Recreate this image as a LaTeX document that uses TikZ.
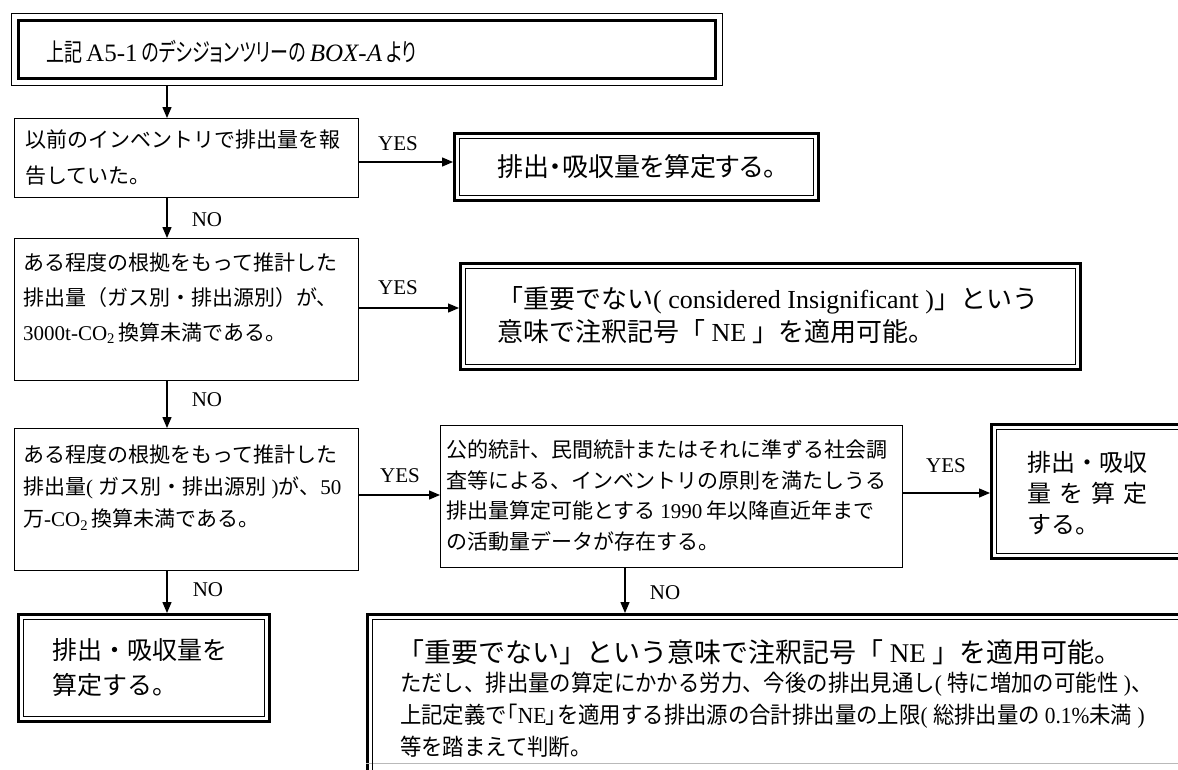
\documentclass[tikz,border=0pt]{standalone}
\usepackage{fontspec}
\setmainfont{Liberation Serif}
\newfontfamily\jp{Noto Sans CJK JP}
\newfontfamily\jpp{Noto Sans CJK JP}[RawFeature={+palt}]
\newfontfamily\jpt{Noto Sans CJK JP}[RawFeature={+palt},FakeStretch=0.72]
\newfontfamily\jpc{Noto Sans CJK JP}[FakeStretch=0.93]
\newfontfamily\jpcp{Noto Sans CJK JP}[RawFeature={+palt},FakeStretch=0.93]
\newfontfamily\rmc{Liberation Serif}[FakeStretch=0.93]
\newcommand\lat[1]{{\rmfamily #1}}
\newcommand\latc[1]{{\rmc #1}}
\usetikzlibrary{arrows.meta}
\begin{document}
\begin{tikzpicture}[x=1pt,y=-1pt,
  sbox/.style={draw, line width=1.2pt, inner sep=0pt, anchor=north west},
  dbox/.style={draw, line width=3pt, inner sep=0pt, anchor=north west},
  tbox/.style={draw, line width=1pt, inner sep=0pt, anchor=north west},
  txt/.style={inner sep=0pt, anchor=north west, align=left, font=\jp\fontsize{21}{35}\selectfont},
  bigtxt/.style={inner sep=0pt, anchor=north west, align=left, font=\jp\fontsize{26}{33}\selectfont},
  lab/.style={inner sep=0pt, font=\fontsize{21}{24}\selectfont},
  arr/.style={line width=1.3pt, -{Triangle[length=11pt,width=9pt]}},
  innerline/.style={line width=1.3pt}]
\useasboundingbox (0,0) rectangle (1178,769);
\fill[white] (0,0) rectangle (1178,769);

% helper coordinates
\coordinate (cx) at (167,0);
\coordinate (cx2) at (625,0);
\coordinate (r1) at (0,162);
\coordinate (r2) at (0,308);
\coordinate (r3) at (0,495);
\coordinate (r4) at (0,493);
\coordinate (gl) at (0,763);

% top box
\node[tbox, minimum width=711pt, minimum height=72pt] (top) at (11,13) {};
\draw[line width=3.5pt] ([shift={(7.5,7.5)}]top.north west) rectangle ([shift={(-7.5,-7.5)}]top.south east);
\node[inner sep=0pt, anchor=west, font=\jpt\fontsize{25}{28}\selectfont] (toptext) at ([shift={(35,39)}]top.north west)
  {上記 \lat{A5-1} のデシジョンツリーの \lat{\textit{BOX-A}} より};

% box 1
\node[sbox, minimum width=344pt, minimum height=79pt] (b1) at (14,118) {};
\node[txt, font=\jp\fontsize{21}{36}\selectfont] (b1t) at ([shift={(11,12)}]b1.north west) {以前のインベントリで排出量を報\\告していた。};

% box A
\node[dbox, minimum width=364pt, minimum height=67pt, font=\jpp\fontsize{26}{30}\selectfont] (boxA) at (453,132) {排出・吸収量を算定する。};

% box 2
\node[sbox, minimum width=344pt, minimum height=142pt] (b2) at (14,238) {};
\node[txt] (b2t) at ([shift={(9,15)}]b2.north west)
  {ある程度の根拠をもって推計した\\排出量（ガス別・排出源別）が、\\\lat{3000t-CO\textsubscript{2}}\,換算未満である。};

% NE box
\node[dbox, minimum width=620pt, minimum height=106pt] (ne) at (459,262) {};
\node[bigtxt] (net) at ([shift={(38,24)}]ne.north west)
  {「重要でない\lat{( considered Insignificant )}」という\\意味で注釈記号「\lat{ NE }」を適用可能。};

% box 3
\node[sbox, minimum width=344pt, minimum height=142pt] (b3) at (14,428) {};
\node[txt, font=\jp\fontsize{21}{32}\selectfont] (b3t) at ([shift={(9,17)}]b3.north west)
  {ある程度の根拠をもって推計した\\排出量\lat{( }ガス別・排出源別\lat{ )}が、\lat{50}\\万\lat{-CO\textsubscript{2}}\,換算未満である。};

% box 4
\node[sbox, minimum width=462pt, minimum height=142pt] (b4) at (440,425) {};
\node[txt, font=\jp\fontsize{21}{30.5}\selectfont] (b4t) at ([shift={(6,15)}]b4.north west)
  {公的統計、民間統計またはそれに準ずる社会調\\査等による、インベントリの原則を満たしうる\\排出量算定可能とする \lat{1990} 年以降直近年まで\\の活動量データが存在する。};

% box 5
\node[dbox, minimum width=240pt, minimum height=134pt] (b5) at (990,423) {};
\node[inner sep=0pt, anchor=north west, align=left, font=\jp\fontsize{24}{31}\selectfont] (b5t) at ([shift={(37,28)}]b5.north west)
  {排出・吸収\\\hbox to 5em{量\hfil を\hfil 算\hfil 定}\\する。};

% box 6
\node[dbox, minimum width=251pt, minimum height=107pt] (b6) at (17,613) {};
\node[inner sep=0pt, anchor=north west, align=left, font=\jp\fontsize{25}{35}\selectfont] (b6t) at ([shift={(35,25)}]b6.north west)
  {排出・吸収量を\\算定する。};

% box 7
\node[dbox, minimum width=850pt, minimum height=200pt] (b7) at (366,613) {};
\node[inner sep=0pt, anchor=west, font=\jp\fontsize{27}{30}\selectfont] (b7a) at ([shift={(31,39)}]b7.north west)
  {「重要でない」という意味で注釈記号「\lat{ NE }」を適用可能。};
\node[inner sep=0pt, anchor=north west, align=left, font=\jpc\fontsize{23}{32}\selectfont] (b7b) at ([shift={(34,59)}]b7.north west)
  {ただし、排出量の算定にかかる労力、今後の排出見通し\latc{( }特に増加の可能性\latc{ )}、\\上記定義で{\jpcp 「}\latc{NE}{\jpcp 」}を適用する排出源の合計排出量の上限\latc{( }総排出量の \latc{0.1\%}未満\latc{ )}\\等を踏まえて判断。};
\draw[gray!55, line width=1pt] (b7.west |- gl) -- (b7.east |- gl);

% inner lines of double boxes
\foreach \n in {boxA,ne,b5,b6,b7}
  \draw[innerline] ([shift={(6.5,6.5)}]\n.north west) rectangle ([shift={(-6.5,-6.5)}]\n.south east);

% connectors
\draw[arr] (cx |- top.south) -- (cx |- b1.north);
\draw[arr] (b1.east |- r1) -- (boxA.west |- r1);
\draw[arr] (cx |- b1.south) -- (cx |- b2.north);
\draw[arr] (b2.east |- r2) -- (ne.west |- r2);
\draw[arr] (cx |- b2.south) -- (cx |- b3.north);
\draw[arr] (b3.east |- r3) -- (b4.west |- r3);
\draw[arr] (b4.east |- r4) -- (b5.west |- r4);
\draw[arr] (cx |- b3.south) -- (cx |- b6.north);
\draw[arr] (cx2 |- b4.south) -- (cx2 |- b7.north);

% labels
\node[lab] (yes1) at (398,144) {YES};
\node[lab] (yes2) at (398,288) {YES};
\node[lab] (yes3) at (400,476) {YES};
\node[lab] (yes4) at (946,466) {YES};
\node[lab] (no1) at (207,220) {NO};
\node[lab] (no2) at (207,400) {NO};
\node[lab] (no3) at (208,590) {NO};
\node[lab] (no4) at (665,593) {NO};
\end{tikzpicture}
\end{document}
